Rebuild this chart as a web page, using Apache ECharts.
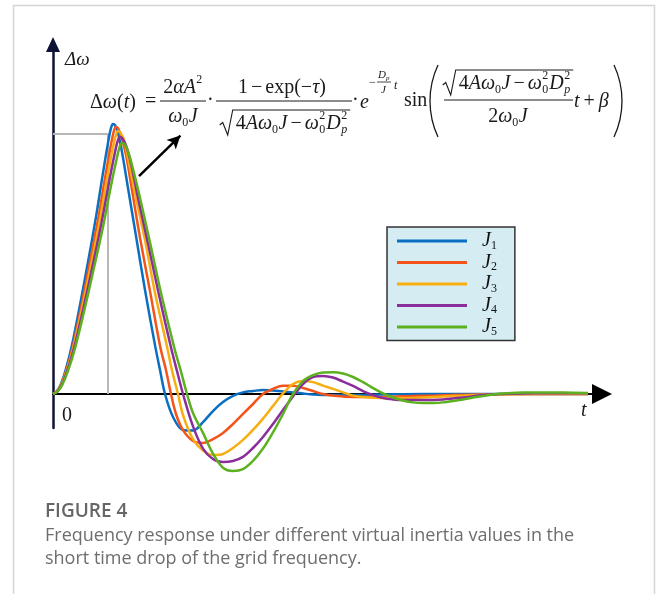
<!DOCTYPE html>
<html>
<head>
<meta charset="utf-8">
<script src="https://cdn.jsdelivr.net/npm/echarts@6.0.0/dist/echarts.min.js"></script>
<style>
  html, body { margin: 0; padding: 0; background: #ffffff; }
  #chart { width: 656px; height: 594px; }
</style>
</head>
<body>
<div id="chart"></div>
<script>
// Frequency deviation Δω (in % of the J1 peak) versus time t (arbitrary units)
const seriesNames = ['J1', 'J2', 'J3', 'J4', 'J5'];
const seriesColors = ['#0a6fc2', '#f4541a', '#f7ae10', '#8a2e9c', '#5bb11f'];

const j1 = [[0,0],[0.4,1.1],[0.8,3.7],[1.3,9.3],[1.9,18.1],[2.7,33.0],[3.5,48.9],[4.3,65.6],[5.0,81.9],[5.5,93.0],[5.8,98.5],[6.0,100],
  [6.2,99.6],[6.5,96.7],[6.9,89.6],[7.5,76.3],[8.3,58.5],[9.2,38.5],[10.2,18.1],[10.7,8.9],[11.2,0],
  [12,-8.5],[13,-13.3],[14,-13.5],[15,-10.4],[16,-6.3],[17,-3.0],[18,-0.7],[19,0.6],[20,1.1],[21,1.5],[22,1.3],[23,0.9],[24,0.6],
  [25,0.2],[26,-0.2],[28,-0.4],[30,-0.4],[33,-0.2],[37,0],[41,0],[45,0],[49,0],[53.5,0]];

const j2 = [[0,0],[0.42,1.1],[0.84,3.7],[1.37,9.2],[2.0,17.9],[2.84,32.6],[3.67,48.4],[4.52,64.9],[5.25,81.0],[5.78,92.0],[6.09,97.4],[6.3,98.9],
  [6.5,98.5],[6.8,95.6],[7.3,88.6],[7.9,75.5],[8.7,57.9],[9.7,38.1],[10.7,17.9],[11.3,8.8],[11.8,0],
  [12.3,-7.4],[13,-13.4],[14,-17.4],[15,-18.1],[16,-16.7],[17,-14.4],[18,-11.1],[19,-7.4],[20,-3.7],[21,0],[22,1.9],[23,3.1],[24,3.1],
  [25,2.2],[26,1.1],[27,0],[28,-0.6],[30,-1.1],[32,-1.1],[34,-1.0],[36,-0.7],[38,-0.6],[40,-0.4],[43,-0.2],[46,0],[50,0],[53.5,0]];

const j3 = [[0,0],[0.44,1.1],[0.86,3.6],[1.41,9.1],[2.06,17.6],[2.93,32.1],[3.79,47.6],[4.66,63.9],[5.41,79.8],[5.96,90.6],[6.29,95.9],[6.5,97.4],
  [6.7,97.0],[7.1,94.2],[7.5,87.3],[8.2,74.3],[9.2,57.0],[10.2,37.5],[11.4,17.6],[11.9,8.7],[12.5,0],
  [13,-7.8],[14,-16.7],[15,-20.9],[16,-22.6],[17,-22.2],[18,-20.0],[19,-17.0],[20,-13.3],[21,-9.1],[22,-4.4],[23,0.2],[24,3.7],[25,4.8],
  [26,4.4],[27,3.1],[28,1.9],[29,0.6],[30,-0.6],[31,-1.1],[33,-1.5],[35,-1.5],[37,-1.3],[39,-0.9],[41,-0.6],[44,-0.2],[48,0],[53.5,0]];

const j4 = [[0,0],[0.45,1.0],[0.89,3.5],[1.45,8.9],[2.12,17.2],[3.02,31.4],[3.91,46.6],[4.8,62.5],[5.58,78.0],[6.14,88.5],[6.48,93.8],[6.7,95.2],
  [6.9,94.8],[7.3,92.1],[7.8,85.3],[8.5,72.6],[9.5,55.7],[10.6,36.7],[11.8,17.2],[12.4,8.5],[13.0,0],
  [14,-12.0],[15,-20.2],[16,-24.1],[17,-25.2],[18,-24.8],[19,-23.3],[20,-20.0],[21,-15.9],[22,-11.1],[23,-5.9],[24,-0.9],[25,3.7],
  [26,6.3],[27,6.7],[28,6.1],[29,4.6],[30,3.0],[31,1.1],[32,-0.4],[33,-1.5],[34,-2.0],[35,-2.2],[37,-2.2],[39,-2.0],[41,-1.3],
  [43,-0.4],[45,0],[48,0.3],[53.5,0.3]];

const j5 = [[0,0],[0.46,1.0],[0.92,3.4],[1.5,8.6],[2.19,16.8],[3.11,30.7],[4.02,45.5],[4.95,61.0],[5.75,76.2],[6.33,86.5],[6.67,91.6],[6.9,93.0],
  [7.15,92.6],[7.5,89.9],[8.0,83.3],[8.8,71.0],[9.8,54.4],[10.9,35.8],[12.15,16.8],[12.8,8.3],[13.4,0],
  [14,-7.0],[15,-14.4],[16,-22.1],[17,-27.3],[18,-28.5],[19,-27.8],[20,-24.8],[21,-20.2],[22,-14.2],[23,-7.4],[24,0],[25,4.8],
  [26,7.0],[27,8.0],[28,8.1],[29,7.6],[30,6.3],[31,4.4],[32,2.2],[33,0.2],[34,-1.3],[35,-2.4],[36,-3.1],[37,-3.3],[38,-3.3],
  [39,-3.1],[40,-2.6],[41,-2.0],[42,-1.3],[43,-0.7],[44,-0.2],[45,0.2],[47,0.6],[49,0.6],[51,0.6],[53.5,0.4]];

const seriesData = [j1, j2, j3, j4, j5];

// Peak guide (time and level of the first maximum) and the pointer to the formula
const peakGuide = [[0, 96.3], [5.5, 96.3], [5.5, 0]];
const pointerFrom = [8.6, 80.7];
const pointerTo = [12.74, 95.7];

const captionTitle = 'FIGURE 4';
const captionLines = [
  'Frequency response under different virtual inertia values in the',
  'short time drop of the grid frequency.'
];

// ---------- formula typesetting helpers ----------
const SERIF = '"Liberation Serif", "Times New Roman", serif';
const SANS = '"Open Sans", "Noto Sans", sans-serif';
const INK = '#1a1a1a';
const FS = 20;
const FS_S = 12;
const mctx = document.createElement('canvas').getContext('2d');
function tw(s, size, it) {
  mctx.font = (it ? 'italic ' : '') + size + 'px ' + SERIF;
  return mctx.measureText(s).width;
}
const eq = [];
function txt(s, x, y, size, it) {
  eq.push({
    type: 'text', silent: true, x: x, y: y,
    style: {
      text: s, font: (it ? 'italic ' : '') + size + 'px ' + SERIF,
      fill: INK, textAlign: 'left', align: 'left', textVerticalAlign: 'middle', verticalAlign: 'middle'
    }
  });
}
function seg(x1, y1, x2, y2, w) {
  eq.push({ type: 'line', silent: true, shape: { x1: x1, y1: y1, x2: x2, y2: y2 }, style: { stroke: INK, lineWidth: w || 1 } });
}
const R = t => ({ t: t, it: false });
const I = t => ({ t: t, it: true });
const SUB = (t, it) => ({ t: t, it: !!it, sub: true });
const SUP = t => ({ t: t, it: false, sup: true });
const SS = (b, bi, p) => ({ ss: true, b: b, bi: bi, p: p });
const SP = w => ({ sp: w });

function row(tokens, x, cy, draw) {
  let cx = x;
  tokens.forEach(k => {
    if (k.sp) { cx += k.sp; return; }
    if (k.ss) {
      if (draw) { txt(k.b, cx + 0.5, cy + 6, FS_S, k.bi); txt(k.p, cx + 0.5, cy - 8, FS_S, false); }
      cx += Math.max(tw(k.b, FS_S, k.bi), tw(k.p, FS_S, false)) + 1.5;
      return;
    }
    if (k.sub) { if (draw) txt(k.t, cx, cy + 6, FS_S, k.it); cx += tw(k.t, FS_S, k.it) + 0.5; return; }
    if (k.sup) { if (draw) txt(k.t, cx + 0.5, cy - 8, FS_S, false); cx += tw(k.t, FS_S, false) + 1; return; }
    if (draw) txt(k.t, cx, cy, FS, k.it);
    cx += tw(k.t, FS, k.it);
  });
  return cx - x;
}
function radicalWidth(tokens) { return 16 + row(tokens, 0, 0, false) + 2; }
function radical(tokens, x, cy) {
  const w = row(tokens, 0, 0, false);
  const top = cy - 14, bot = cy + 11;
  eq.push({
    type: 'polyline', silent: true,
    shape: { points: [[x, cy + 1], [x + 3, cy - 1.5], [x + 8, bot], [x + 13, top], [x + 18 + w, top]] },
    style: { stroke: INK, lineWidth: 1.1, fill: null }
  });
  row(tokens, x + 16, cy, true);
}
function centerRow(tokens, mid, cy) { const w = row(tokens, 0, 0, false); row(tokens, mid - w / 2, cy, true); }
function centerRadical(tokens, mid, cy) { radical(tokens, mid - radicalWidth(tokens) / 2, cy); }
function paren(cx, cy, r, a0, a1) {
  eq.push({ type: 'arc', silent: true, shape: { cx: cx, cy: cy, r: r, startAngle: a0, endAngle: a1, clockwise: true },
    style: { stroke: INK, lineWidth: 1.3, fill: null } });
}

// Δω(t) = 2αA²/(ω0 J) · (1 − exp(−τ))/√(4Aω0J − ω0²Dp²) · e^(−Dp t / J) sin( √(4Aω0J − ω0²Dp²)/(2ω0J) t + β )
const radicand = [R('4'), I('A'), I('ω'), SUB('0'), I('J'), SP(3), R('−'), SP(3), I('ω'), SS('0', false, '2'), I('D'), SS('p', true, '2')];
row([R('Δ'), I('ω'), R('('), I('t'), R(')')], 90, 103, true);
row([R('=')], 145, 102, true);
seg(160, 101, 206, 101, 1);
centerRow([R('2'), I('α'), I('A'), SUP('2')], 183, 88);
centerRow([I('ω'), SUB('0'), I('J')], 183, 117);
row([R('·')], 207, 101, true);
seg(216, 101, 352, 101, 1);
centerRow([R('1'), SP(3), R('−'), SP(3), R('exp'), R('('), R('−'), I('τ'), R(')')], 282, 88);
centerRadical(radicand, 285, 124);
row([R('·')], 352, 101, true);
row([I('e')], 360, 103, true);
txt('−', 369, 83, FS_S, false);
seg(377, 82, 391, 82, 0.8);
txt('D', 378, 75, 11, true);
txt('p', 386, 78, 7, true);
txt('J', 381, 90, 11, true);
txt('t', 394, 86, FS_S, true);
row([R('sin')], 404, 101, true);
const pa = Math.asin(36 / 85);
paren(515, 101, 85, Math.PI - pa, Math.PI + pa);
seg(444, 100, 573, 100, 1);
centerRadical(radicand, 508, 84);
centerRow([R('2'), I('ω'), SUB('0'), I('J')], 508, 117);
row([I('t'), SP(4), R('+'), SP(4), I('β')], 574, 102, true);
paren(537, 101, 85, -pa, pa);

// ---------- chart ----------
const chart = echarts.init(document.getElementById('chart'), null, { renderer: 'canvas' });

const lineSeries = seriesNames.map((name, i) => ({
  name: name,
  type: 'line',
  data: seriesData[i],
  color: seriesColors[i],
  showSymbol: false,
  smooth: 0.35,
  clip: false,
  z: 3,
  lineStyle: { width: 2.5, color: seriesColors[i] },
  emphasis: { disabled: true }
}));

const option = {
  animation: false,
  backgroundColor: '#ffffff',
  grid: { left: 53, right: 54, top: 44.5, bottom: 166, containLabel: false, outerBoundsMode: 'none' },
  xAxis: {
    type: 'value', min: 0, max: 54.9,
    axisLine: { show: true, onZero: true, symbol: ['none', 'triangle'], symbolSize: [20, 20], lineStyle: { color: '#000000', width: 2 } },
    axisTick: { show: false }, axisLabel: { show: false }, splitLine: { show: false }
  },
  yAxis: {
    type: 'value', min: -12.59, max: 129.44,
    axisLine: { show: true, onZero: false, symbol: ['none', 'triangle'], symbolSize: [14, 15], lineStyle: { color: '#0d1236', width: 2.5 } },
    axisTick: { show: false }, axisLabel: { show: false }, splitLine: { show: false }
  },
  legend: {
    data: seriesNames,
    orient: 'vertical',
    left: 387, top: 227,
    backgroundColor: '#d4ecf2',
    borderColor: '#333333', borderWidth: 1.5, borderRadius: 0,
    padding: [4, 18, 3, 10],
    itemWidth: 70, itemHeight: 3, itemGap: 1,
    icon: 'rect',
    selectedMode: false,
    itemStyle: { borderWidth: 0 },
    formatter: name => '{j|J}{s|' + name.slice(1) + '}',
    textStyle: {
      rich: {
        j: { fontFamily: SERIF, fontStyle: 'italic', fontSize: 20, color: '#111111', padding: [0, 0, 0, 10] },
        s: { fontFamily: SERIF, fontSize: 12, color: '#111111', padding: [9, 0, 0, 0] }
      }
    }
  },
  series: [
    {
      name: 'peak',
      type: 'line',
      data: peakGuide,
      showSymbol: false,
      clip: false,
      z: 2,
      lineStyle: { width: 2, color: '#b8b8b8' },
      emphasis: { disabled: true },
      markLine: {
        silent: true,
        symbol: ['none', 'arrow'],
        symbolSize: [10, 13],
        lineStyle: { color: '#000000', width: 2.5, type: 'solid' },
        label: { show: false },
        emphasis: { disabled: true },
        data: [[{ coord: pointerFrom }, { coord: pointerTo }]]
      }
    }
  ].concat(lineSeries),
  graphic: [
    { type: 'rect', silent: true, z: -10, shape: { x: 13.5, y: 5.5, width: 641, height: 620 }, style: { fill: null, stroke: '#d4d4d4', lineWidth: 1.5 } },
    { type: 'text', silent: true, x: 65, y: 60, style: { text: 'Δω', font: 'italic 19px ' + SERIF, fill: INK, textVerticalAlign: 'middle', verticalAlign: 'middle' } },
    { type: 'text', silent: true, x: 62, y: 416, style: { text: '0', font: '20px ' + SERIF, fill: INK, textVerticalAlign: 'middle', verticalAlign: 'middle' } },
    { type: 'text', silent: true, x: 581, y: 411, style: { text: 't', font: 'italic 20px ' + SERIF, fill: INK, textVerticalAlign: 'middle', verticalAlign: 'middle' } },
    { type: 'text', silent: true, x: 45, y: 512, style: { text: captionTitle, font: '600 19px ' + SANS, fill: '#666666', textVerticalAlign: 'middle', verticalAlign: 'middle' } },
    { type: 'text', silent: true, x: 45, y: 536, style: { text: captionLines[0], font: '18px ' + SANS, fill: '#6e6e6e', textVerticalAlign: 'middle', verticalAlign: 'middle' } },
    { type: 'text', silent: true, x: 45, y: 559, style: { text: captionLines[1], font: '18px ' + SANS, fill: '#6e6e6e', textVerticalAlign: 'middle', verticalAlign: 'middle' } }
  ].concat(eq)
};

chart.setOption(option);
</script>
</body>
</html>
